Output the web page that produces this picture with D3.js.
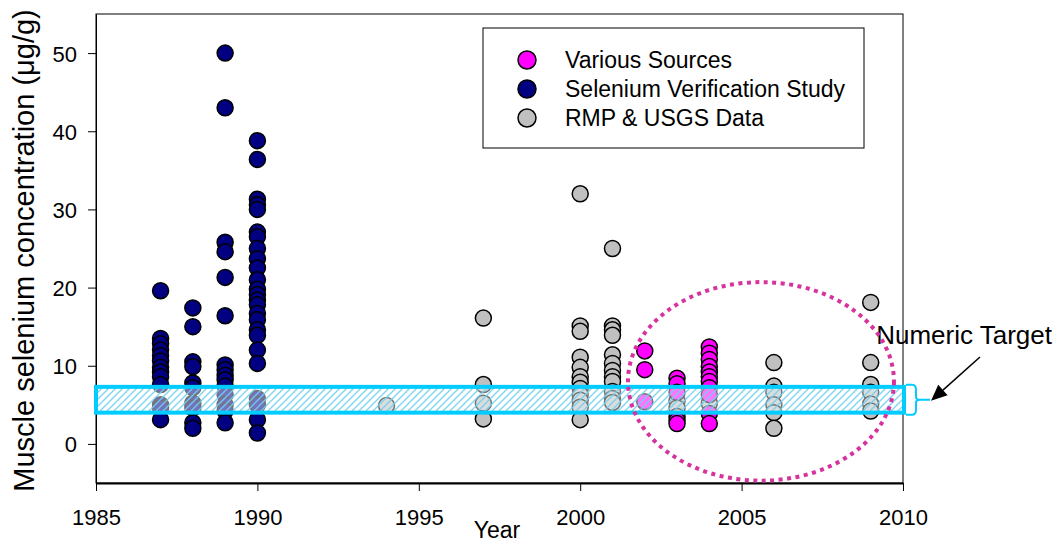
<!DOCTYPE html>
<html>
<head>
<meta charset="utf-8">
<script src="https://cdn.jsdelivr.net/npm/d3@7/dist/d3.min.js"></script>
<style>
  html, body { margin: 0; padding: 0; background: #fff; }
  svg { display: block; font-family: "Liberation Sans", Arial, sans-serif; }
</style>
</head>
<body>
<svg id="chart" width="1055" height="544"></svg>
<script>
// Muscle selenium concentrations (µg/g) by sampling year, per data source
const verificationYears = [1987, 1988, 1989, 1990];
const verificationValues = [
  [19.6, 13.5, 12.8, 12.0, 11.3, 10.6, 9.8, 9.2, 8.6, 7.6, 5.0, 4.6, 3.1],
  [17.4, 15.0, 10.5, 9.9, 7.8, 7.2, 5.2, 4.6, 2.7, 2.0],
  [50.0, 43.0, 25.8, 24.6, 21.3, 16.4, 10.1, 9.5, 8.8, 8.2, 7.4, 6.3, 5.0, 4.2, 2.7],
  [38.8, 36.4, 31.3, 30.6, 30.0, 27.1, 26.5, 25.0, 23.7, 22.5, 21.0, 19.8, 19.1, 18.4,
   17.8, 16.7, 15.9, 14.6, 13.9, 12.0, 10.3, 5.8, 5.0, 3.1, 1.4]
];

const rmpYears = [1994, 1997, 2000, 2001, 2003, 2004, 2006, 2009];
const rmpValues = [
  [4.9],
  [16.1, 7.6, 5.2, 3.2],
  [32.0, 15.1, 14.4, 11.1, 9.8, 8.6, 7.9, 7.1, 6.3, 5.6, 4.7, 3.1],
  [25.0, 15.1, 14.6, 13.9, 11.4, 10.3, 9.4, 8.6, 8.0, 6.7, 5.8, 5.3],
  [5.5, 4.6, 3.5],
  [5.2],
  [10.4, 7.4, 6.6, 5.0, 4.0, 2.0],
  [18.1, 10.4, 7.6, 6.6, 5.1, 4.2]
];

const variousYears = [2002, 2003, 2004];
const variousValues = [
  [11.9, 9.5, 5.4],
  [8.4, 7.7, 6.6, 3.0, 2.6],
  [12.4, 11.6, 10.8, 9.9, 9.2, 8.6, 8.0, 7.2, 6.3, 3.9, 2.6]
];

// Numeric target range and the highlighted recent-years region
const targetRange = [4.0, 7.3];
const recentRegion = { year: 2005.6, value: 8.0, yearRadius: 4.12, valueRadius: 12.7 };

const xTicks = [1985, 1990, 1995, 2000, 2005, 2010];
const yTicks = [0, 10, 20, 30, 40, 50];

const legendLabels = ["Various Sources", "Selenium Verification Study", "RMP & USGS Data"];
const seriesColors = { various: "#ff00ff", verification: "#000080", rmp: "#c0c0c0" };

const svg = d3.select("#chart");
const plot = { left: 96, right: 903, top: 14, bottom: 483 };

const x = d3.scaleLinear().domain([1985, 2010]).range([plot.left, plot.right]);
const y = d3.scaleLinear().domain([-5, 55]).range([plot.bottom, plot.top]);

// hatch for the target band
const defs = svg.append("defs");
defs.append("pattern")
  .attr("id", "hatch")
  .attr("patternUnits", "userSpaceOnUse")
  .attr("width", 7).attr("height", 7)
  .append("path")
  .attr("d", "M-1,1 l2,-2 M0,7 l7,-7 M6,8 l2,-2")
  .attr("stroke", "#6fd0f0")
  .attr("stroke-width", 1.4)
  .attr("fill", "none");

// frame
svg.append("rect")
  .attr("x", plot.left).attr("y", plot.top)
  .attr("width", plot.right - plot.left).attr("height", plot.bottom - plot.top)
  .attr("fill", "none").attr("stroke", "#000").attr("stroke-width", 1);

// axes
const xAxis = svg.append("g")
  .attr("transform", `translate(0,${plot.bottom})`)
  .call(d3.axisBottom(x).tickValues(xTicks).tickFormat(d3.format("d")).tickSize(8).tickSizeOuter(0));
xAxis.select(".domain").attr("stroke-width", 2);
xAxis.selectAll("text").attr("font-size", 22).attr("fill", "#000").attr("y", 42).attr("dy", 0);

const yAxis = svg.append("g")
  .attr("transform", `translate(${plot.left},0)`)
  .call(d3.axisLeft(y).tickValues(yTicks).tickSize(8).tickSizeOuter(0));
yAxis.selectAll("text").attr("font-size", 22).attr("fill", "#000").attr("x", -19).attr("dy", "0.36em");

// axis titles
svg.append("text")
  .attr("x", 497).attr("y", 538)
  .attr("text-anchor", "middle").attr("font-size", 23)
  .text("Year");
svg.append("text")
  .attr("transform", `translate(34,${(y(55) + y(-5)) / 2 + 2}) rotate(-90)`)
  .attr("text-anchor", "middle").attr("font-size", 29)
  .text("Muscle selenium concentration (\u03bcg/g)");

// points
function flatten(years, values) {
  const out = [];
  years.forEach((yr, i) => values[i].forEach(v => out.push({ year: yr, value: v })));
  return out;
}
function drawSeries(data, color) {
  svg.append("g").selectAll("circle")
    .data(data).join("circle")
    .attr("cx", d => x(d.year)).attr("cy", d => y(d.value))
    .attr("r", 8)
    .attr("fill", color)
    .attr("stroke", "#000").attr("stroke-width", 1.5);
}
drawSeries(flatten(rmpYears, rmpValues), seriesColors.rmp);
drawSeries(flatten(verificationYears, verificationValues), seriesColors.verification);
drawSeries(flatten(variousYears, variousValues), seriesColors.various);

// numeric target band drawn over the points
const bandTop = y(targetRange[1]), bandBottom = y(targetRange[0]);
const bandRight = plot.right + 1;
svg.append("rect")
  .attr("x", plot.left).attr("y", bandTop)
  .attr("width", bandRight - plot.left).attr("height", bandBottom - bandTop)
  .attr("fill", "#fff").attr("fill-opacity", 0.45);
svg.append("rect")
  .attr("x", plot.left).attr("y", bandTop)
  .attr("width", bandRight - plot.left).attr("height", bandBottom - bandTop)
  .attr("fill", "url(#hatch)").attr("fill-opacity", 0.9)
  .attr("stroke", "#00ccff").attr("stroke-width", 4);

// brace on the right of the band
const bMid = (bandTop + bandBottom) / 2;
svg.append("path")
  .attr("d", `M${bandRight + 2},${bandTop - 2} L${bandRight + 8},${bandTop - 2} Q${bandRight + 12},${bandTop - 2} ${bandRight + 12},${bandTop + 3}
              L${bandRight + 12},${bMid - 3} Q${bandRight + 12},${bMid} ${bandRight + 16},${bMid} L${bandRight + 26},${bMid}
              M${bandRight + 16},${bMid} Q${bandRight + 12},${bMid} ${bandRight + 12},${bMid + 3}
              L${bandRight + 12},${bandBottom - 3} Q${bandRight + 12},${bandBottom + 2} ${bandRight + 8},${bandBottom + 2} L${bandRight + 2},${bandBottom + 2}`)
  .attr("fill", "none").attr("stroke", "#00ccff").attr("stroke-width", 2);

// annotation arrow and label
const tip = [bandRight + 27, bMid + 1];
const tail = [980, 357];
const ang = Math.atan2(tip[1] - tail[1], tip[0] - tail[0]);
const headLen = 16, headHalf = 7;
const baseX = tip[0] - headLen * Math.cos(ang), baseY = tip[1] - headLen * Math.sin(ang);
svg.append("line")
  .attr("x1", tail[0]).attr("y1", tail[1]).attr("x2", baseX).attr("y2", baseY)
  .attr("stroke", "#000").attr("stroke-width", 1.5);
svg.append("path")
  .attr("d", `M${tip[0]},${tip[1]} L${baseX - headHalf * Math.sin(ang)},${baseY + headHalf * Math.cos(ang)} L${baseX + headHalf * Math.sin(ang)},${baseY - headHalf * Math.cos(ang)} Z`)
  .attr("fill", "#000");
svg.append("text")
  .attr("x", 1052).attr("y", 344)
  .attr("text-anchor", "end").attr("font-size", 26)
  .text("Numeric Target");

// dotted ellipse around recent years
svg.append("ellipse")
  .attr("cx", x(recentRegion.year)).attr("cy", y(recentRegion.value))
  .attr("rx", x(recentRegion.year + recentRegion.yearRadius) - x(recentRegion.year))
  .attr("ry", y(recentRegion.value - recentRegion.valueRadius) - y(recentRegion.value))
  .attr("fill", "none").attr("stroke", "#d6339e")
  .attr("stroke-width", 4).attr("stroke-dasharray", "4 4.5");

// legend
const legend = svg.append("g");
legend.append("rect")
  .attr("x", 483).attr("y", 28).attr("width", 381).attr("height", 120)
  .attr("fill", "#fff").attr("stroke", "#000").attr("stroke-width", 1);
const legendColors = [seriesColors.various, seriesColors.verification, seriesColors.rmp];
legendLabels.forEach((label, i) => {
  const cy = 60 + i * 29;
  legend.append("circle").attr("cx", 527).attr("cy", cy).attr("r", 9)
    .attr("fill", legendColors[i]).attr("stroke", "#000").attr("stroke-width", 1.5);
  legend.append("text").attr("x", 565).attr("y", cy + 8)
    .attr("font-size", 23).text(label);
});
</script>
</body>
</html>
